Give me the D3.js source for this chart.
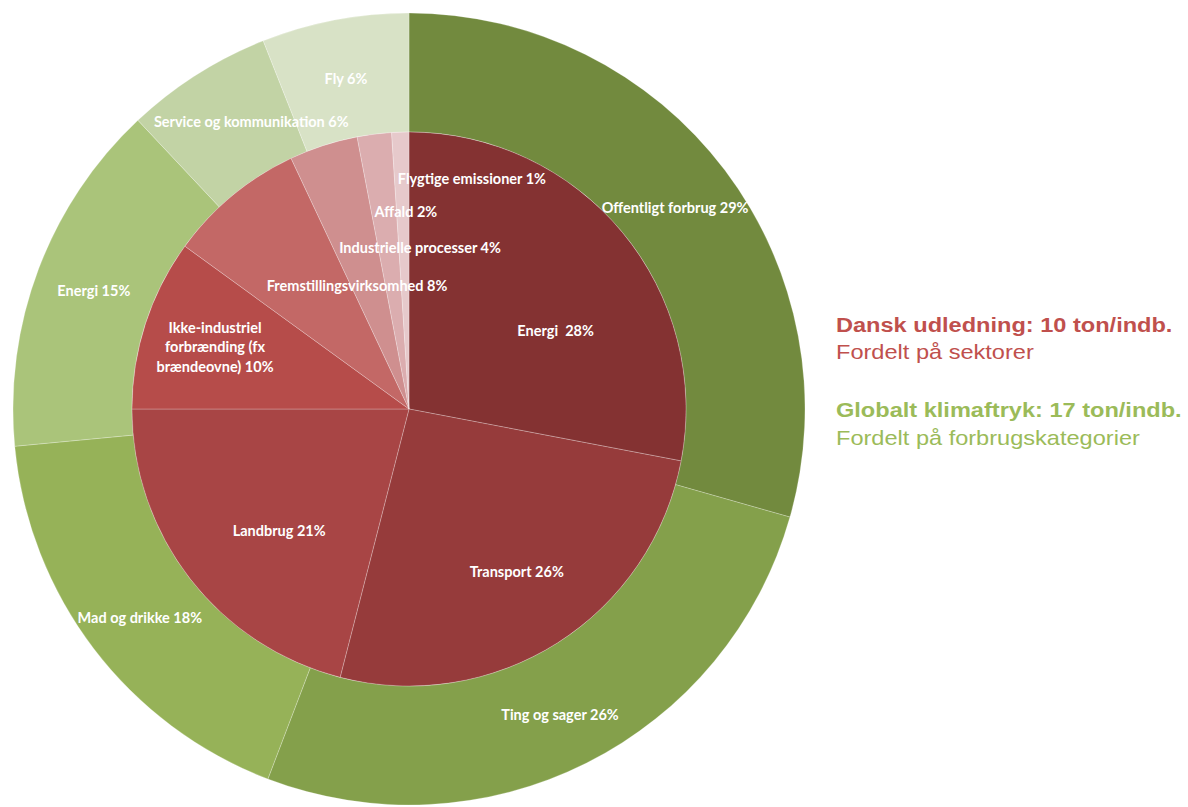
<!DOCTYPE html>
<meta charset="utf-8">
<style>
  body { margin: 0; background: #fff; }
  text { font-family: Lato, "Open Sans", sans-serif; white-space: pre; }
</style>
<svg width="1188" height="807"></svg>
<script src="https://d3js.org/d3.v7.min.js"></script>
<script>
  // inner pie: Danish emissions by sector (%)
  var sectors = ["Energi ", "Transport", "Landbrug", "Ikke-industriel forbrænding (fx brændeovne)",
    "Fremstillingsvirksomhed", "Industrielle processer", "Affald", "Flygtige emissioner"];
  var sectorValues = [28, 26, 21, 10, 8, 4, 2, 1];
  var sectorColors = ["#843232", "#963b3b", "#a84545", "#b64c4a", "#c36866", "#cf8f8f", "#dbadaf", "#e6c9cb"];

  // outer ring: global footprint by consumption category (%)
  var categories = ["Offentligt forbrug", "Ting og sager", "Mad og drikke", "Energi",
    "Service og kommunikation", "Fly"];
  var categoryValues = [29.4, 26.4, 17.7, 14.5, 6, 6];
  var categoryColors = ["#728a3e", "#84a04b", "#96b258", "#aac47a", "#c2d3a5", "#d8e2c6"];

  // hand placed inner labels (angle in degrees from top, radius as share of inner radius)
  var sectorLabelPos = [[61.9, 0.6], [146.5, 0.705], [226.8, 0.643], [287.7, 0.735],
    [337.1, 0.482], [3.9, 0.583], [359.1, 0.711], [15.3, 0.861]];
  // small nudges of the outer labels off the centroid [degrees, px]
  var categoryLabelNudge = [[0, -3], [0.4, 5], [-0.5, 4], [-0.2, 0], [3.6, -9], [0, 0]];

  var svg = d3.select("svg"),
    cx = 409, cy = 409,
    rIn = 277, rOut = 396;

  var g = svg.append("g").attr("transform", "translate(" + cx + "," + cy + ")");

  var pie = d3.pie().sort(null).value(function(d) { return d; });
  var outerArc = d3.arc().innerRadius(rIn).outerRadius(rOut);
  var innerArc = d3.arc().innerRadius(0).outerRadius(rIn);

  var fmt = function(v) { return Math.round(v) + "%"; };
  var polar = function(deg, r) {
    var a = deg * Math.PI / 180;
    return [r * Math.sin(a), -r * Math.cos(a)];
  };

  g.append("g").selectAll("path")
    .data(pie(categoryValues))
    .enter().append("path")
    .attr("d", outerArc)
    .attr("fill", function(d, i) { return categoryColors[i]; })
    .attr("stroke", "#fff").attr("stroke-opacity", 0.3).attr("stroke-width", 0.8);

  g.append("g").selectAll("path")
    .data(pie(sectorValues))
    .enter().append("path")
    .attr("d", innerArc)
    .attr("fill", function(d, i) { return sectorColors[i]; })
    .attr("stroke", "#fff").attr("stroke-opacity", 0.3).attr("stroke-width", 0.8);

  // outer labels around the ring centroid
  g.append("g").selectAll("text")
    .data(pie(categoryValues))
    .enter().append("text")
    .attr("transform", function(d, i) {
      var mid = (d.startAngle + d.endAngle) / 2 * 180 / Math.PI + categoryLabelNudge[i][0];
      return "translate(" + polar(mid, (rIn + rOut) / 2 + categoryLabelNudge[i][1]) + ")";
    })
    .attr("text-anchor", "middle")
    .attr("dy", "0.35em")
    .attr("fill", "#fff")
    .attr("font-size", 14.5)
    .attr("font-weight", 700)
    .text(function(d, i) { return categories[i] + " " + fmt(d.value); });

  // inner labels
  var lab = g.append("g").selectAll("text")
    .data(sectorValues)
    .enter().append("text")
    .attr("transform", function(d, i) {
      return "translate(" + polar(sectorLabelPos[i][0], sectorLabelPos[i][1] * rIn) + ")";
    })
    .attr("text-anchor", "middle")
    .attr("fill", "#fff")
    .attr("font-size", 14.5)
    .attr("font-weight", 700);

  lab.each(function(d, i) {
    var t = d3.select(this);
    if (i === 3) {
      var lines = ["Ikke-industriel", "forbrænding (fx", "brændeovne) " + fmt(d)];
      lines.forEach(function(l, k) {
        t.append("tspan").attr("x", 0).attr("dy", k === 0 ? "-1.0em" : "1.35em").text(l);
      });
    } else {
      t.attr("dy", "0.35em").text(sectors[i] + " " + fmt(d));
    }
  });

  // side titles
  var side = svg.append("g").attr("transform", "translate(836,0) scale(1.15,1)")
    .attr("font-size", 20.5);
  var sideFont = "'Liberation Sans', Arial, sans-serif";
  side.append("text").attr("y", 332).attr("fill", "#c0504d").attr("font-weight", 700)
    .style("font-family", sideFont)
    .text("Dansk udledning: 10 ton/indb.");
  side.append("text").attr("y", 359).attr("fill", "#c0504d")
    .style("font-family", sideFont)
    .text("Fordelt på sektorer");
  side.append("text").attr("y", 417).attr("fill", "#9bbb59").attr("font-weight", 700)
    .style("font-family", sideFont)
    .text("Globalt klimaftryk: 17 ton/indb.");
  side.append("text").attr("y", 445).attr("fill", "#9bbb59")
    .style("font-family", sideFont)
    .text("Fordelt på forbrugskategorier");
</script>
